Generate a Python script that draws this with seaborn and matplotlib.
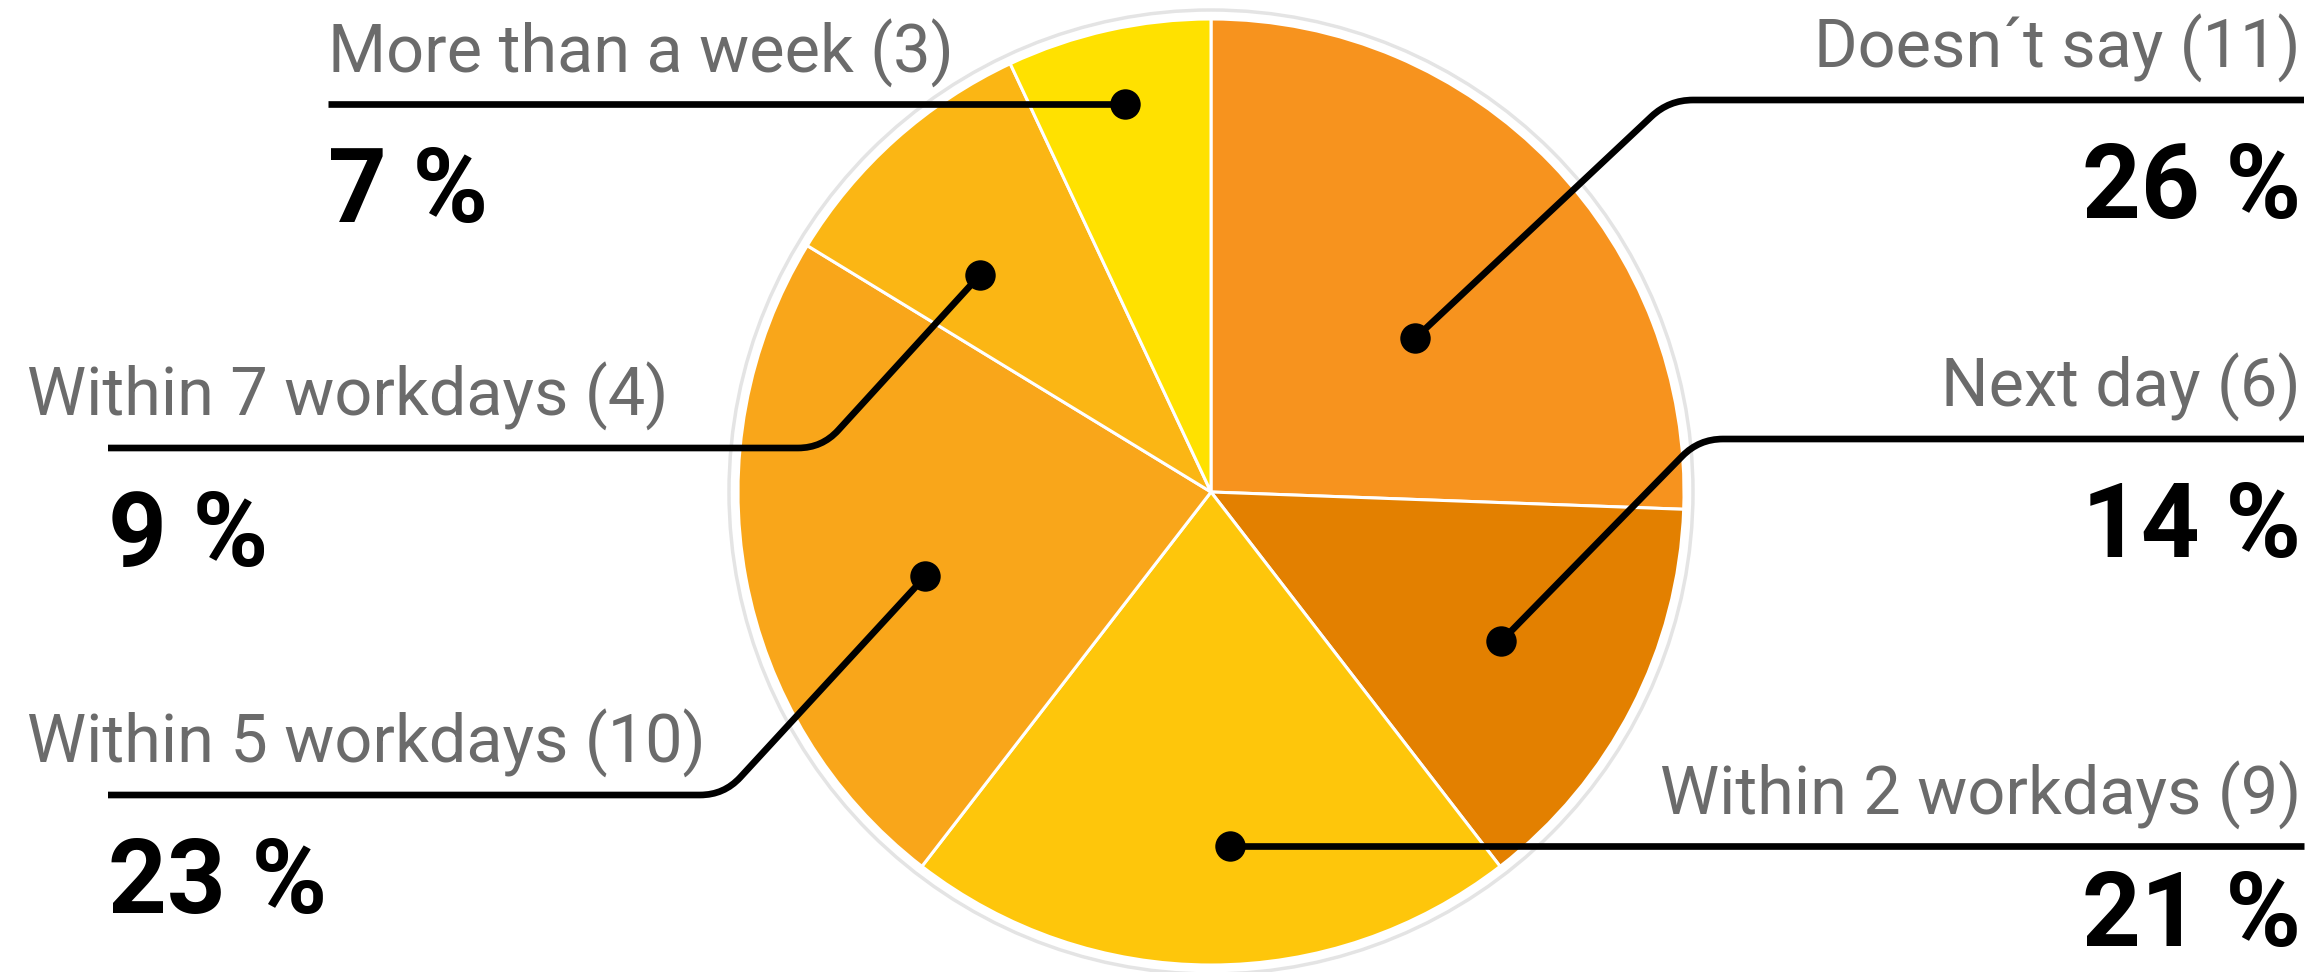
import numpy as np
import matplotlib
matplotlib.use("Agg")
import matplotlib.pyplot as plt
from matplotlib.path import Path
from matplotlib.patches import PathPatch, Circle
import seaborn as sns

# Delivery time categories and counts (clockwise from 12 o'clock)
categories = ["Doesn´t say", "Next day", "Within 2 workdays",
              "Within 5 workdays", "Within 7 workdays", "More than a week"]
counts = [11, 6, 9, 10, 4, 3]
slice_colors = ["#F7931E", "#E38000", "#FEC60B", "#F9A61A", "#FBB614", "#FFE100"]

sns.set_theme(style="white")
plt.rcParams["font.family"] = ["Roboto", "DejaVu Sans"]

W, H = 2316, 972
fig = plt.figure(figsize=(W / 100, H / 100), dpi=100)
ax = fig.add_axes([0, 0, 1, 1])

cx, cy, R = 1211, 480, 473
start = 90

ax.add_patch(Circle((cx, cy), R + 9, fill=False, ec="#e4e4e4", lw=2.5, zorder=0))
ax.pie(counts, colors=slice_colors, startangle=start, counterclock=False,
       radius=R, center=(cx, cy),
       wedgeprops=dict(edgecolor="white", linewidth=2.2))
ax.set_xlim(0, W)
ax.set_ylim(0, H)
ax.set_aspect("equal")
ax.axis("off")

total = sum(counts)
cum = np.cumsum([0] + counts)
mid_angles = [start - 360 * (cum[i] + counts[i] / 2) / total
              for i in range(len(counts))]

# layout: anchor radius fraction, angle nudge (deg), line height, elbow x
# (None = straight line), line end x, side
layout = {
    "Doesn´t say":       dict(rf=0.54, da=-7, ly=872, ex=1669, end=2304, side="right"),
    "Next day":          dict(rf=0.69, da=0, ly=533, ex=1699, end=2304, side="right"),
    "Within 2 workdays": dict(rf=0.75, da=3, ly=None, ex=None, end=2304, side="right"),
    "Within 5 workdays": dict(rf=0.63, da=6, ly=177, ex=724, end=108, side="left"),
    "Within 7 workdays": dict(rf=0.67, da=5, ly=524, ex=822, end=108, side="left"),
    "More than a week":  dict(rf=0.84, da=0, ly=None, ex=None, end=328, side="left"),
}

LW = 4.8
gray = "#6b6b6b"


def leader(dot, elbow, end, rad=24):
    d, e, t = map(np.asarray, (dot, elbow, end))
    u1 = (e - d) / np.linalg.norm(e - d)
    u2 = (t - e) / np.linalg.norm(t - e)
    verts = [d, e - u1 * rad, e, e + u2 * rad, t]
    codes = [Path.MOVETO, Path.LINETO, Path.CURVE3, Path.CURVE3, Path.LINETO]
    ax.add_patch(PathPatch(Path(verts, codes), fill=False, lw=LW,
                           ec="black", capstyle="butt", joinstyle="round", zorder=5))


for cat, n, ang in zip(categories, counts, mid_angles):
    L = layout[cat]
    r = L["rf"] * R
    a = np.deg2rad(ang + L["da"])
    dot = (cx + r * np.cos(a), cy + r * np.sin(a))
    if L["ex"] is None:
        ly = dot[1]
        ax.plot([dot[0], L["end"]], [ly, ly], color="black", lw=LW,
                solid_capstyle="butt", zorder=5)
    else:
        ly = L["ly"]
        leader(dot, (L["ex"], ly), (L["end"], ly))
    ax.scatter([dot[0]], [dot[1]], s=480, color="black", zorder=6, linewidths=0)

    pct = f"{round(100 * n / total)} %"
    if L["side"] == "right":
        tx, ha = 2301, "right"
        lx = tx
    else:
        tx, ha = L["end"], "left"
        lx = 27 if L["end"] == 108 else 328
    ax.text(lx, ly + 32, f"{cat} ({n})", ha=ha, va="baseline",
            fontsize=48, color=gray, zorder=7)
    ax.text(tx, max(ly - 118, 26), pct, ha=ha, va="baseline", fontsize=74,
            fontweight="bold", color="black", zorder=7)

fig.savefig("out.png", dpi=100, facecolor="white")
